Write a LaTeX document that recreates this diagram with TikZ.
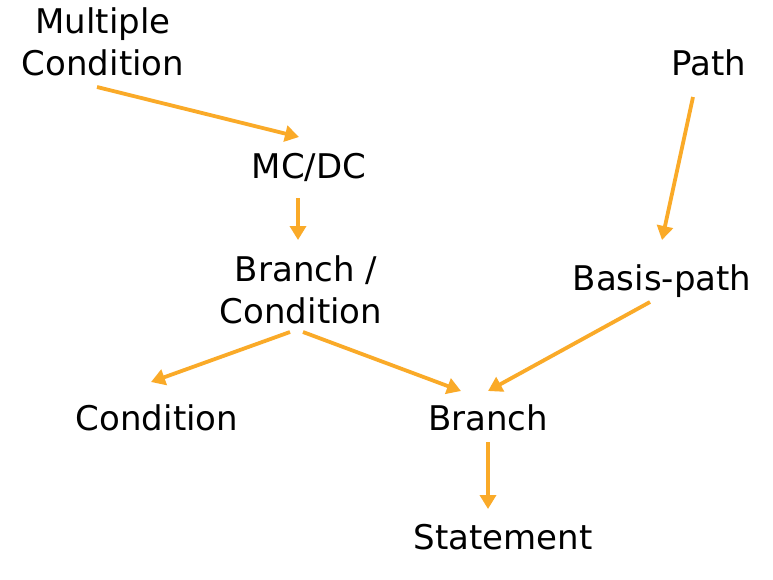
\documentclass[tikz,border=0pt]{standalone}
\usepackage{fontspec}
\setmainfont{DejaVu Sans}
\usetikzlibrary{arrows.meta}
\definecolor{arrorange}{RGB}{250,170,40}
\begin{document}
\begin{tikzpicture}[x=1pt,y=-1pt,
  lbl/.style={inner sep=0pt,anchor=base,align=center,font=\fontsize{34}{42}\selectfont},
  conn/.style={draw=arrorange,line width=3.8pt,-{Triangle[length=14pt,width=16pt]}}]
\useasboundingbox[fill=white] (0,0) rectangle (773,579);
\node[lbl] (mult) at (103,75) {Multiple\\Condition};
\node[lbl] (mcdc) at (309,178) {MC/DC};
\node[lbl] (bc) at (301,323) {\hspace*{10pt}Branch /\\Condition};
\node[lbl] (path) at (709,75) {Path};
\node[lbl] (basis) at (662,290) {Basis-path};
\node[lbl] (cond) at (157,430) {Condition};
\node[lbl] (branch) at (488,430) {Branch};
\node[lbl] (stmt) at (503,549) {Statement};
\coordinate (mult-o) at (97,87);
\coordinate (mcdc-i) at (299,137);
\coordinate (mcdc-o) at (298,198);
\coordinate (bc-i) at (298,240);
\coordinate (bc-ol) at (290,332);
\coordinate (bc-or) at (303,332);
\coordinate (cond-i) at (151,382);
\coordinate (branch-il) at (461,391);
\coordinate (branch-ir) at (488,391);
\coordinate (basis-o) at (650,302);
\coordinate (path-o) at (693,97);
\coordinate (basis-i) at (662,240);
\coordinate (branch-o) at (488,442);
\coordinate (stmt-i) at (488,509);
\draw[conn] (mult-o) -- (mcdc-i);
\draw[conn] (mcdc-o) -- (bc-i);
\draw[conn] (bc-ol) -- (cond-i);
\draw[conn] (bc-or) -- (branch-il);
\draw[conn] (basis-o) -- (branch-ir);
\draw[conn] (path-o) -- (basis-i);
\draw[conn] (branch-o) -- (stmt-i);
\end{tikzpicture}
\end{document}
